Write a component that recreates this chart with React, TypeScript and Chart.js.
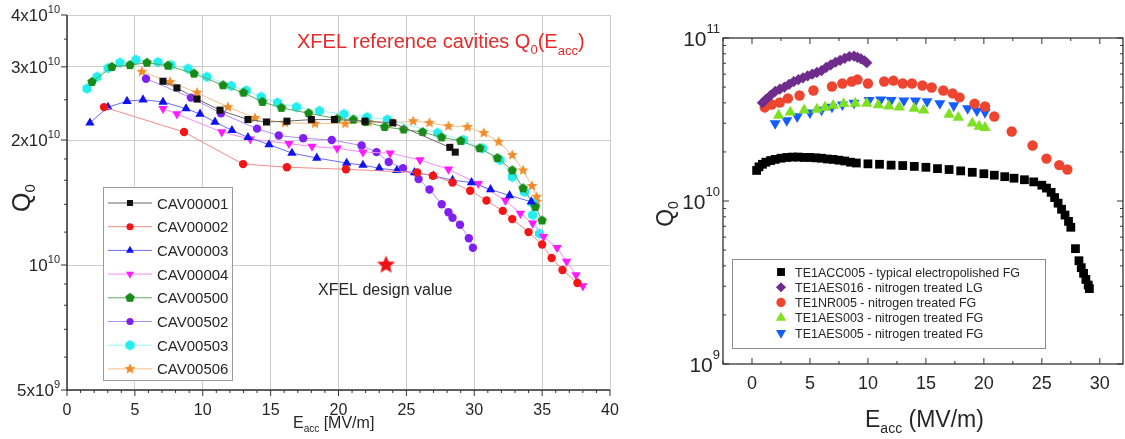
import React, { useEffect, useRef } from 'react';
import { Chart, registerables } from 'chart.js';

Chart.register(...registerables);

const FONT = '"Liberation Sans", Arial, Helvetica, sans-serif';
const TEXT = '#262626';

// ---------------- Left chart data (XFEL reference cavities) ----------------
const cav00001X = [7.07, 8.1, 9.58, 11.27, 13.33, 14.7, 16.2, 18.0, 19.7, 21.95, 24.0, 28.2, 28.6];
const cav00001Y = [2.77e10, 2.67e10, 2.51e10, 2.36e10, 2.24e10, 2.21e10, 2.22e10, 2.24e10, 2.24e10, 2.22e10, 2.2e10, 1.92e10, 1.87e10];

const cav00002X = [2.73, 8.62, 12.97, 16.2, 20.55, 25.8, 26.96, 28.4, 29.7, 30.9, 32.1, 32.8, 34.0, 35.0, 35.7, 36.5, 37.6];
const cav00002Y = [2.4e10, 2.09e10, 1.75e10, 1.72e10, 1.7e10, 1.67e10, 1.64e10, 1.58e10, 1.51e10, 1.43e10, 1.35e10, 1.29e10, 1.2e10, 1.12e10, 1.04e10, 0.973e10, 0.905e10];

const cav00003X = [1.69, 3.02, 4.42, 5.6, 7.07, 8.77, 9.8, 10.9, 12.15, 13.33, 14.88, 16.57, 18.4, 20.6, 21.8, 23.0, 24.3, 25.6, 27.0, 28.4, 29.8, 31.2, 32.6, 34.2];
const cav00003Y = [2.2e10, 2.4e10, 2.48e10, 2.5e10, 2.47e10, 2.38e10, 2.31e10, 2.21e10, 2.11e10, 2.03e10, 1.95e10, 1.86e10, 1.81e10, 1.76e10, 1.74e10, 1.71e10, 1.69e10, 1.67e10, 1.64e10, 1.6e10, 1.58e10, 1.52e10, 1.47e10, 1.42e10];

const cav00004X = [7.07, 8.1, 11.4, 13.5, 16.35, 18.05, 19.9, 21.8, 23.8, 26.0, 28.1, 30.3, 32.3, 33.4, 34.3, 35.1, 36.1, 36.8, 37.5, 38.0];
const cav00004Y = [2.38e10, 2.31e10, 2.09e10, 2.01e10, 1.96e10, 1.93e10, 1.91e10, 1.87e10, 1.86e10, 1.79e10, 1.7e10, 1.57e10, 1.43e10, 1.33e10, 1.26e10, 1.17e10, 1.1e10, 1.02e10, 0.946e10, 0.89e10];

const cav00500X = [1.84, 3.31, 4.64, 5.89, 7.44, 9.36, 11.5, 13.0, 14.4, 15.8, 17.8, 19.9, 21.1, 22.0, 23.4, 24.8, 26.2, 27.6, 29.0, 30.4, 31.7, 32.8, 33.6, 34.5, 35.0];
const cav00500Y = [2.76e10, 3.0e10, 3.03e10, 3.07e10, 3.02e10, 2.89e10, 2.71e10, 2.6e10, 2.47e10, 2.39e10, 2.32e10, 2.25e10, 2.24e10, 2.21e10, 2.15e10, 2.12e10, 2.09e10, 2.03e10, 1.99e10, 1.91e10, 1.81e10, 1.69e10, 1.53e10, 1.38e10, 1.28e10];

const cav00502X = [5.82, 9.13, 11.34, 14.0, 15.6, 17.4, 19.5, 21.7, 22.8, 23.7, 24.75, 25.9, 26.7, 27.6, 28.1, 28.4, 28.95, 29.6, 29.9];
const cav00502Y = [2.81e10, 2.53e10, 2.32e10, 2.13e10, 2.05e10, 2.02e10, 2.0e10, 1.94e10, 1.87e10, 1.77e10, 1.71e10, 1.61e10, 1.52e10, 1.4e10, 1.34e10, 1.3e10, 1.25e10, 1.16e10, 1.1e10];

const cav00503X = [1.47, 2.21, 3.02, 3.9, 5.08, 6.7, 7.66, 8.91, 10.3, 12.1, 13.2, 14.3, 15.5, 16.9, 18.6, 20.4, 22.1, 23.6, 27.3, 29.2, 30.6, 31.9, 32.8, 33.7, 34.3, 34.3, 34.8];
const cav00503Y = [2.66e10, 2.84e10, 2.98e10, 3.07e10, 3.12e10, 3.08e10, 3.03e10, 2.97e10, 2.84e10, 2.7e10, 2.63e10, 2.54e10, 2.46e10, 2.4e10, 2.35e10, 2.31e10, 2.27e10, 2.24e10, 2.08e10, 2.0e10, 1.91e10, 1.79e10, 1.63e10, 1.5e10, 1.41e10, 1.32e10, 1.19e10];

const cav00506X = [5.52, 7.59, 9.58, 11.86, 13.85, 16.06, 18.27, 20.5, 22.2, 24.0, 25.5, 26.7, 28.1, 29.5, 30.7, 31.8, 32.8, 33.6, 34.25, 34.6, 34.6];
const cav00506Y = [2.92e10, 2.76e10, 2.6e10, 2.4e10, 2.26e10, 2.2e10, 2.19e10, 2.19e10, 2.21e10, 2.2e10, 2.22e10, 2.2e10, 2.16e10, 2.15e10, 2.08e10, 1.98e10, 1.84e10, 1.69e10, 1.55e10, 1.46e10, 1.42e10];

const designX = [23.5];
const designY = [1e10];

const leftLabels = ['CAV00001', 'CAV00002', 'CAV00003', 'CAV00004', 'CAV00500', 'CAV00502', 'CAV00503', 'CAV00506'];
const leftXTicks = [0, 5, 10, 15, 20, 25, 30, 35, 40];
const leftYTicks = [5e9, 1e10, 2e10, 3e10, 4e10];
const leftYMantissa = ['5x10', '10', '2x10', '3x10', '4x10'];
const leftYExponent = ['9', '10', '10', '10', '10'];
const leftYMinor = [6e9, 7e9, 8e9, 9e9, 1.2e10, 1.4e10, 1.6e10, 1.8e10, 2.5e10, 3.5e10];

// ---------------- Right chart data (nitrogen treated) ----------------
const acc005X = [0.4, 0.6, 0.9, 1.2, 1.6, 2.0, 2.5, 3.0, 3.5, 4.0, 4.5, 5.0, 5.5, 6.0, 6.5, 7.0, 7.5, 8.0, 8.5, 9.0, 10.0, 11.0, 12.0, 13.0, 14.0, 15.0, 16.0, 17.0, 18.0, 19.0, 20.0, 20.9, 21.8, 22.6, 23.5, 24.3, 25.0, 25.4, 25.8, 26.1, 26.4, 26.7, 27.0, 27.3, 27.5, 27.9, 28.2, 28.4, 28.6, 28.8, 29.0, 29.1];
const acc005Y = [1.54e10, 1.62e10, 1.68e10, 1.73e10, 1.77e10, 1.8e10, 1.83e10, 1.85e10, 1.86e10, 1.86e10, 1.85e10, 1.85e10, 1.84e10, 1.83e10, 1.81e10, 1.8e10, 1.78e10, 1.76e10, 1.73e10, 1.71e10, 1.69e10, 1.68e10, 1.66e10, 1.65e10, 1.63e10, 1.61e10, 1.58e10, 1.56e10, 1.53e10, 1.5e10, 1.47e10, 1.44e10, 1.41e10, 1.38e10, 1.35e10, 1.31e10, 1.25e10, 1.2e10, 1.13e10, 1.05e10, 9.7e9, 8.9e9, 8.2e9, 7.5e9, 6.9e9, 5.1e9, 4.3e9, 3.9e9, 3.6e9, 3.3e9, 3.05e9, 2.9e9];

const aes016X = [0.9, 1.2, 1.6, 2.0, 2.4, 2.8, 3.2, 3.6, 4.0, 4.4, 4.8, 5.2, 5.6, 6.0, 6.4, 6.8, 7.2, 7.6, 8.0, 8.4, 8.8, 9.1, 9.4, 9.7, 9.9];
const aes016Y = [4.0e10, 4.2e10, 4.45e10, 4.7e10, 4.85e10, 5.0e10, 5.2e10, 5.4e10, 5.55e10, 5.7e10, 5.85e10, 6.0e10, 6.15e10, 6.3e10, 6.6e10, 6.85e10, 7.1e10, 7.3e10, 7.5e10, 7.7e10, 7.75e10, 7.6e10, 7.45e10, 7.25e10, 7.05e10];

const nr005X = [1.1, 1.7, 2.4, 3.1, 4.1, 5.3, 6.9, 7.8, 8.6, 9.1, 10.0, 11.4, 12.2, 13.0, 13.8, 14.7, 15.5, 16.5, 17.3, 17.9, 19.2, 20.1, 20.9, 22.4, 24.2, 25.4, 26.5, 27.2];
const nr005Y = [3.75e10, 3.91e10, 4.02e10, 4.26e10, 4.44e10, 4.76e10, 5.04e10, 5.26e10, 5.41e10, 5.56e10, 5.26e10, 5.41e10, 5.48e10, 5.26e10, 5.26e10, 5.11e10, 4.97e10, 4.76e10, 4.57e10, 4.32e10, 3.96e10, 3.8e10, 3.3e10, 2.67e10, 2.19e10, 1.82e10, 1.66e10, 1.56e10];

const aes003X = [2.3, 3.3, 4.5, 5.6, 6.3, 7.0, 7.9, 8.9, 9.9, 10.9, 11.8, 12.7, 14.0, 14.8, 17.0, 17.8, 19.0, 19.6, 20.1];
const aes003Y = [3.35e10, 3.5e10, 3.6e10, 3.65e10, 3.75e10, 3.85e10, 3.95e10, 3.97e10, 3.97e10, 3.88e10, 3.82e10, 3.76e10, 3.7e10, 3.6e10, 3.4e10, 3.25e10, 3.0e10, 2.87e10, 2.82e10];

const aes005X = [2.0, 3.0, 3.9, 5.0, 6.0, 6.9, 7.8, 8.8, 10.1, 11.1, 12.0, 13.1, 14.1, 15.1, 16.2, 17.4, 18.6, 19.4, 20.1];
const aes005Y = [2.99e10, 3.12e10, 3.3e10, 3.48e10, 3.62e10, 3.78e10, 3.9e10, 4.0e10, 4.15e10, 4.18e10, 4.15e10, 4.13e10, 4.12e10, 4.08e10, 3.97e10, 3.85e10, 3.7e10, 3.58e10, 3.5e10];

const rightLabels = [
  'TE1ACC005 - typical electropolished FG',
  'TE1AES016 - nitrogen treated LG',
  'TE1NR005 - nitrogen treated FG',
  'TE1AES003 - nitrogen treated FG',
  'TE1AES005 - nitrogen treated FG',
];
const rightXTicks = [0, 5, 10, 15, 20, 25, 30];
const rightXMinor = [-2.5, 2.5, 7.5, 12.5, 17.5, 22.5, 27.5];
const rightYTicks = [1e9, 1e10, 1e11];
const rightYExponent = ['9', '10', '11'];

// ---------------- helpers ----------------
const pts = (xs: number[], ys: number[]) => xs.map((x, i) => ({ x, y: ys[i] }));

function shapeCanvas(n: number, r: number, color: string, inner = 0, rotDeg = 0): HTMLCanvasElement {
  const size = Math.ceil(r * 2 + 2);
  const c = document.createElement('canvas');
  c.width = size;
  c.height = size;
  const ctx = c.getContext('2d')!;
  ctx.translate(size / 2, size / 2);
  ctx.beginPath();
  const count = inner ? n * 2 : n;
  for (let i = 0; i < count; i++) {
    const rr = inner ? (i % 2 === 0 ? r : r * inner) : r;
    const a = -Math.PI / 2 + (i * 2 * Math.PI) / count + (rotDeg * Math.PI) / 180;
    const x = rr * Math.cos(a);
    const y = rr * Math.sin(a);
    if (i === 0) ctx.moveTo(x, y);
    else ctx.lineTo(x, y);
  }
  ctx.closePath();
  ctx.fillStyle = color;
  ctx.fill();
  return c;
}

function drawMarker(ctx: CanvasRenderingContext2D, style: any, x: number, y: number, r: number, color: string, rot = 0) {
  if (style instanceof HTMLCanvasElement) {
    ctx.drawImage(style, x - style.width / 2, y - style.height / 2);
    return;
  }
  ctx.save();
  ctx.fillStyle = color;
  ctx.beginPath();
  if (style === 'circle') ctx.arc(x, y, r, 0, Math.PI * 2);
  else if (style === 'rect') {
    const s = r * Math.SQRT1_2;
    ctx.rect(x - s, y - s, 2 * s, 2 * s);
  } else if (style === 'rectRot') {
    ctx.moveTo(x, y - r);
    ctx.lineTo(x + r, y);
    ctx.lineTo(x, y + r);
    ctx.lineTo(x - r, y);
    ctx.closePath();
  } else if (style === 'triangle') {
    let a = (rot * Math.PI) / 180;
    for (let i = 0; i < 3; i++) {
      const px = x + Math.sin(a) * r;
      const py = y - Math.cos(a) * r;
      if (i === 0) ctx.moveTo(px, py);
      else ctx.lineTo(px, py);
      a += (2 * Math.PI) / 3;
    }
    ctx.closePath();
  }
  ctx.fill();
  ctx.restore();
}

type Seg = { t: string; s: number; dy?: number };
function richWidth(ctx: CanvasRenderingContext2D, segs: Seg[]) {
  let w = 0;
  for (const g of segs) {
    ctx.font = `${g.s}px ${FONT}`;
    w += ctx.measureText(g.t).width;
  }
  return w;
}
function drawRich(ctx: CanvasRenderingContext2D, segs: Seg[], x: number, y: number, align: 'left' | 'right' | 'center', color: string) {
  const w = richWidth(ctx, segs);
  let cx = align === 'left' ? x : align === 'right' ? x - w : x - w / 2;
  ctx.fillStyle = color;
  ctx.textAlign = 'left';
  ctx.textBaseline = 'alphabetic';
  for (const g of segs) {
    ctx.font = `${g.s}px ${FONT}`;
    ctx.fillText(g.t, cx, y + (g.dy || 0));
    cx += ctx.measureText(g.t).width;
  }
}
function seg(ctx: CanvasRenderingContext2D, x1: number, y1: number, x2: number, y2: number) {
  ctx.beginPath();
  ctx.moveTo(x1, y1);
  ctx.lineTo(x2, y2);
  ctx.stroke();
}

// ---------------- Left chart ----------------
function leftConfig(): any {
  const pentagon = shapeCanvas(5, 5, '#178a17');
  const hexagon = shapeCanvas(6, 5.2, '#22eeee');
  const star = shapeCanvas(5, 5.8, '#f28c28', 0.45);
  const bigStar = shapeCanvas(5, 9.5, '#ee1111', 0.45);

  const series = [
    { xs: cav00001X, ys: cav00001Y, c: '#111111', lc: '#6a6a6a', ps: 'rect', r: 5, rot: 0 },
    { xs: cav00002X, ys: cav00002Y, c: '#f21616', lc: '#f48a8a', ps: 'circle', r: 4.2, rot: 0 },
    { xs: cav00003X, ys: cav00003Y, c: '#1212ee', lc: '#6b6bf2', ps: 'triangle', r: 5.4, rot: 0 },
    { xs: cav00004X, ys: cav00004Y, c: '#ff1aff', lc: '#f58af5', ps: 'triangle', r: 5.4, rot: 180 },
    { xs: cav00500X, ys: cav00500Y, c: '#178a17', lc: '#5fa85f', ps: pentagon, r: 4.5, rot: 0 },
    { xs: cav00502X, ys: cav00502Y, c: '#8020f0', lc: '#b48af0', ps: 'circle', r: 4.2, rot: 0 },
    { xs: cav00503X, ys: cav00503Y, c: '#22eeee', lc: '#9af5f5', ps: hexagon, r: 5, rot: 0 },
    { xs: cav00506X, ys: cav00506Y, c: '#f28c28', lc: '#f5be8a', ps: star, r: 5, rot: 0 },
  ];
  const datasets: any[] = series.map((s, i) => ({
    label: leftLabels[i],
    data: pts(s.xs, s.ys),
    showLine: true,
    borderColor: s.lc,
    borderWidth: 1,
    pointStyle: s.ps,
    pointRadius: s.r,
    pointRotation: s.rot,
    pointBackgroundColor: s.c,
    pointBorderColor: s.c,
    pointBorderWidth: 0,
    markerColor: s.c,
  }));
  datasets.push({
    label: 'XFEL design value',
    data: pts(designX, designY),
    showLine: false,
    pointStyle: bigStar,
    pointRadius: 9,
    pointBackgroundColor: '#ee1111',
    pointBorderWidth: 0,
    hideInLegend: true,
  });

  const decor = {
    id: 'leftDecor',
    afterDraw(chart: any) {
      const { ctx, chartArea: a, scales } = chart;
      const xs = scales.x;
      const ys = scales.y;
      ctx.save();
      ctx.strokeStyle = '#333';
      ctx.lineWidth = 1.5;
      ctx.beginPath();
      ctx.moveTo(a.left, a.top);
      ctx.lineTo(a.left, a.bottom);
      ctx.lineTo(a.right, a.bottom);
      ctx.stroke();
      ctx.lineWidth = 1;
      for (let v = 0; v <= 40; v++) {
        const px = xs.getPixelForValue(v);
        seg(ctx, px, a.bottom, px, a.bottom + (v % 5 === 0 ? 6 : 3));
      }
      leftYTicks.forEach((v) => {
        const py = ys.getPixelForValue(v);
        seg(ctx, a.left - 6, py, a.left, py);
      });
      leftYMinor.forEach((v) => {
        const py = ys.getPixelForValue(v);
        seg(ctx, a.left - 3, py, a.left, py);
      });
      leftXTicks.forEach((v) => {
        drawRich(ctx, [{ t: String(v), s: 16 }], xs.getPixelForValue(v), a.bottom + 25, 'center', TEXT);
      });
      leftYTicks.forEach((v, i) => {
        const py = ys.getPixelForValue(v);
        drawRich(ctx, [{ t: leftYMantissa[i], s: 17 }, { t: leftYExponent[i], s: 11, dy: -8 }], 60, py + 6, 'right', TEXT);
      });
      drawRich(ctx, [{ t: 'E', s: 16 }, { t: 'acc', s: 10, dy: 4 }, { t: ' [MV/m]', s: 16 }], 293, 428, 'left', TEXT);
      ctx.save();
      ctx.translate(30, 198);
      ctx.rotate(-Math.PI / 2);
      drawRich(ctx, [{ t: 'Q', s: 25 }, { t: '0', s: 15, dy: 5 }], 0, 0, 'center', TEXT);
      ctx.restore();
      drawRich(
        ctx,
        [
          { t: 'XFEL reference cavities Q', s: 20 },
          { t: '0', s: 13, dy: 6 },
          { t: '(E', s: 20 },
          { t: 'acc', s: 13, dy: 7 },
          { t: ')', s: 20 },
        ],
        297,
        48,
        'left',
        '#e42a2a'
      );
      drawRich(ctx, [{ t: 'XFEL design value', s: 16 }], 318, 295, 'left', TEXT);
      const lx = 103, ly = 187, lw = 129, lh = 193;
      ctx.fillStyle = '#fff';
      ctx.fillRect(lx, ly, lw, lh);
      ctx.strokeStyle = '#9a9a9a';
      ctx.lineWidth = 1;
      ctx.strokeRect(lx + 0.5, ly + 0.5, lw, lh);
      let row = 0;
      chart.data.datasets.forEach((ds: any) => {
        if (ds.hideInLegend) return;
        const cy = 203 + row * 23.7;
        ctx.strokeStyle = ds.borderColor;
        ctx.lineWidth = 1;
        seg(ctx, 108, cy, 152, cy);
        drawMarker(ctx, ds.pointStyle, 130, cy, ds.pointRadius * 0.85, ds.markerColor, ds.pointRotation);
        drawRich(ctx, [{ t: ds.label, s: 15 }], 157, cy + 5.5, 'left', TEXT);
        row++;
      });
      ctx.restore();
    },
  };

  return {
    type: 'scatter',
    data: { datasets },
    options: {
      responsive: false,
      animation: false,
      devicePixelRatio: 1,
      events: [],
      layout: { autoPadding: false, padding: { left: 0, top: 15, right: 30, bottom: 0 } },
      plugins: { legend: { display: false }, tooltip: { enabled: false } },
      scales: {
        x: {
          type: 'linear',
          min: 0,
          max: 40,
          afterBuildTicks: (s: any) => {
            s.ticks = leftXTicks.map((v) => ({ value: v }));
          },
          afterFit: (s: any) => {
            s.height = 49;
          },
          ticks: { display: false },
          grid: { color: '#cdcdcd', lineWidth: 1, drawTicks: false },
          border: { display: false },
        },
        y: {
          type: 'logarithmic',
          min: 5e9,
          max: 4e10,
          afterBuildTicks: (s: any) => {
            s.ticks = leftYTicks.map((v) => ({ value: v }));
          },
          afterFit: (s: any) => {
            s.width = 67;
          },
          ticks: { display: false },
          grid: { color: '#cdcdcd', lineWidth: 1, drawTicks: false },
          border: { display: false },
        },
      },
    },
    plugins: [decor],
  };
}

// ---------------- Right chart ----------------
function rightConfig(): any {
  const series = [
    { xs: acc005X, ys: acc005Y, c: '#000000', ps: 'rect', r: 6.2, rot: 0 },
    { xs: aes016X, ys: aes016Y, c: '#6e2d8c', ps: 'rectRot', r: 5.6, rot: 0 },
    { xs: nr005X, ys: nr005Y, c: '#ee4530', ps: 'circle', r: 5.2, rot: 0 },
    { xs: aes003X, ys: aes003Y, c: '#7ee022', ps: 'triangle', r: 6.6, rot: 0 },
    { xs: aes005X, ys: aes005Y, c: '#145eff', ps: 'triangle', r: 6.4, rot: 180 },
  ];
  const datasets = series.map((s, i) => ({
    label: rightLabels[i],
    data: pts(s.xs, s.ys),
    showLine: false,
    pointStyle: s.ps,
    pointRadius: s.r,
    pointRotation: s.rot,
    pointBackgroundColor: s.c,
    pointBorderColor: s.c,
    pointBorderWidth: 0,
  }));
  const decor = {
    id: 'rightDecor',
    afterDraw(chart: any) {
      const { ctx, chartArea: a, scales } = chart;
      const xs = scales.x;
      const ys = scales.y;
      ctx.save();
      ctx.strokeStyle = '#333';
      ctx.lineWidth = 1.3;
      ctx.strokeRect(a.left, a.top, a.right - a.left, a.bottom - a.top);
      ctx.lineWidth = 1;
      rightXTicks.forEach((v) => {
        const px = xs.getPixelForValue(v);
        seg(ctx, px, a.bottom, px, a.bottom - 6);
        seg(ctx, px, a.top, px, a.top + 6);
      });
      rightXMinor.forEach((v) => {
        const px = xs.getPixelForValue(v);
        seg(ctx, px, a.bottom, px, a.bottom - 3);
        seg(ctx, px, a.top, px, a.top + 3);
      });
      rightYTicks.forEach((v) => {
        const py = ys.getPixelForValue(v);
        seg(ctx, a.left, py, a.left + 6, py);
        seg(ctx, a.right, py, a.right - 6, py);
      });
      [1e9, 1e10].forEach((d) => {
        for (let m = 2; m <= 9; m++) {
          const py = ys.getPixelForValue(m * d);
          seg(ctx, a.left, py, a.left + 3, py);
          seg(ctx, a.right, py, a.right - 3, py);
        }
      });
      rightXTicks.forEach((v) => {
        drawRich(ctx, [{ t: String(v), s: 18 }], xs.getPixelForValue(v), 388.5, 'center', TEXT);
      });
      rightYTicks.forEach((v, i) => {
        const py = ys.getPixelForValue(v);
        drawRich(ctx, [{ t: '10', s: 21 }, { t: rightYExponent[i], s: 13, dy: -13 }], 80, py + 8, 'right', TEXT);
      });
      drawRich(ctx, [{ t: 'E', s: 23 }, { t: 'acc', s: 14, dy: 6 }, { t: ' (MV/m)', s: 23 }], 225, 427, 'left', TEXT);
      ctx.save();
      ctx.translate(33, 214);
      ctx.rotate(-Math.PI / 2);
      drawRich(ctx, [{ t: 'Q', s: 23 }, { t: '0', s: 14, dy: 5 }], 0, 0, 'center', TEXT);
      ctx.restore();
      const lx = 92, ly = 259, lw = 313, lh = 89;
      ctx.fillStyle = '#fff';
      ctx.fillRect(lx, ly, lw, lh);
      ctx.strokeStyle = '#8a8a8a';
      ctx.lineWidth = 1;
      ctx.strokeRect(lx + 0.5, ly + 0.5, lw, lh);
      chart.data.datasets.forEach((ds: any, i: number) => {
        const cy = 272 + i * 15.25;
        drawMarker(ctx, ds.pointStyle, 141, cy, ds.pointRadius * 0.9, ds.pointBackgroundColor, ds.pointRotation);
        drawRich(ctx, [{ t: ds.label, s: 12.5 }], 155, cy + 4.5, 'left', TEXT);
      });
      ctx.restore();
    },
  };

  return {
    type: 'scatter',
    data: { datasets },
    options: {
      responsive: false,
      animation: false,
      devicePixelRatio: 1,
      events: [],
      layout: { autoPadding: false, padding: { left: 0, top: 38, right: 2, bottom: 0 } },
      plugins: { legend: { display: false }, tooltip: { enabled: false } },
      scales: {
        x: {
          type: 'linear',
          min: -2.5,
          max: 32,
          afterBuildTicks: (s: any) => {
            s.ticks = rightXTicks.map((v) => ({ value: v }));
          },
          afterFit: (s: any) => {
            s.height = 75;
          },
          ticks: { display: false },
          grid: { display: false, drawTicks: false },
          border: { display: false },
        },
        y: {
          type: 'logarithmic',
          min: 1e9,
          max: 1e11,
          afterBuildTicks: (s: any) => {
            s.ticks = rightYTicks.map((v) => ({ value: v }));
          },
          afterFit: (s: any) => {
            s.width = 83;
          },
          ticks: { display: false },
          grid: { display: false, drawTicks: false },
          border: { display: false },
        },
      },
    },
    plugins: [decor],
  };
}

export default function App() {
  const leftRef = useRef<HTMLCanvasElement>(null);
  const rightRef = useRef<HTMLCanvasElement>(null);
  useEffect(() => {
    const c1 = new Chart(leftRef.current!, leftConfig());
    const c2 = new Chart(rightRef.current!, rightConfig());
    return () => {
      c1.destroy();
      c2.destroy();
    };
  }, []);
  return (
    <div style={{ position: 'absolute', left: 0, top: 0, width: 1125, height: 439, background: '#fff', overflow: 'hidden' }}>
      <canvas ref={leftRef} width={640} height={439} style={{ position: 'absolute', left: 0, top: 0, width: 640, height: 439 }} />
      <canvas ref={rightRef} width={485} height={439} style={{ position: 'absolute', left: 640, top: 0, width: 485, height: 439 }} />
    </div>
  );
}
